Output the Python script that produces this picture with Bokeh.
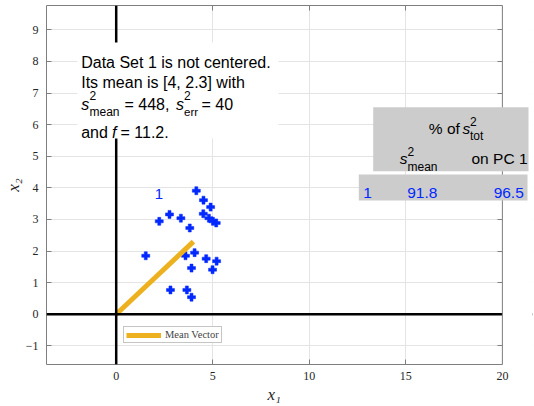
import math
from bokeh.plotting import figure
from bokeh.models import (Range1d, Span, BoxAnnotation, Label, LinearAxis,
                          SingleIntervalTicker, Legend, LegendItem, Title)
from bokeh.embed import file_html
from bokeh.resources import INLINE

# ---------------- data ----------------
x1 = [4.15, 4.52, 4.89, 2.76, 4.51, 2.23, 3.35, 4.80, 5.01, 5.18, 3.81,
      1.53, 3.59, 4.06, 4.66, 5.20, 3.90, 4.99, 2.81, 3.66, 3.90]
x2 = [3.91, 3.61, 3.39, 3.16, 3.18, 2.94, 3.04, 3.04, 2.94, 2.89, 2.73,
      1.85, 1.85, 1.95, 1.76, 1.68, 1.46, 1.41, 0.77, 0.77, 0.54]
mean_vec = [4, 2.3]
set_id = 1
s2_mean = 448
s2_err = 40
f_ratio = 11.2
pct_mean = 91.8
pct_pc1 = 96.5
x_lim = [-3.61, 20]
y_lim = [-1.59, 9.77]
x_tick_step = 5
y_tick_step = 1

BLUE = "#0028FF"
ORANGE = "#EDB120"
GRAY = "#7f7f7f"
TXT = "#262626"

# frame extends a little past x = 20 so that the table can overhang the box
p = figure(width=534, height=406, x_range=Range1d(x_lim[0], 21.56),
           y_range=Range1d(y_lim[0], y_lim[1]), output_backend="svg",
           toolbar_location=None, min_border_left=46, min_border_right=2,
           min_border_top=5, min_border_bottom=42)
p.background_fill_color = "white"
p.border_fill_color = "white"
p.outline_line_color = None

xt = SingleIntervalTicker(interval=x_tick_step)
yt = SingleIntervalTicker(interval=y_tick_step)
p.xaxis.ticker = xt
p.yaxis.ticker = yt
p.xgrid.ticker = xt
p.ygrid.ticker = yt
for g in (p.xgrid, p.ygrid):
    g.grid_line_color = "#E4E4E4"
    g.grid_line_width = 1

for ax in (p.xaxis[0], p.yaxis[0]):
    ax.major_tick_in = 5
    ax.major_tick_out = 0
    ax.minor_tick_line_color = None
    ax.axis_line_color = GRAY
    ax.major_tick_line_color = GRAY
    ax.major_label_text_font = "Liberation Serif"
    ax.major_label_text_font_size = "12px"
    ax.major_label_text_color = TXT
p.xaxis.bounds = (x_lim[0], x_lim[1])
p.xaxis.major_label_standoff = 3
p.yaxis.major_label_standoff = 4
p.yaxis.axis_label = "x₂"
p.yaxis.axis_label_text_font = "Liberation Serif"
p.yaxis.axis_label_text_font_style = "italic"
p.yaxis.axis_label_text_font_size = "17px"
p.yaxis.axis_label_text_color = TXT
p.yaxis.axis_label_standoff = 0

top_ax = LinearAxis(ticker=xt, bounds=(x_lim[0], x_lim[1]),
                    major_label_text_font_size="0px", major_label_text_color=None,
                    major_label_standoff=0, major_tick_in=5, major_tick_out=0,
                    minor_tick_line_color=None, axis_line_color=GRAY,
                    major_tick_line_color=GRAY)
p.add_layout(top_ax, "above")
right_ax = LinearAxis(ticker=yt, fixed_location=x_lim[1],
                      major_label_text_font_size="0px", major_label_text_color=None,
                      major_label_standoff=0, major_tick_in=5, major_tick_out=0,
                      minor_tick_line_color=None, axis_line_color=None,
                      major_tick_line_color=GRAY)
p.add_layout(right_ax, "right")

p.add_layout(Title(text="x₁", align="left", offset=221, standoff=0,
                   text_font="Liberation Serif", text_font_style="italic",
                   text_font_size="17px", text_color=TXT), "below")

# coordinate axes lines
p.add_layout(Span(location=0, dimension="height", line_color="black", line_width=2.5))
p.add_layout(Span(location=0, dimension="width", line_color="black", line_width=2.5))

# data points and mean vector
p.scatter(x1, x2, marker="plus", size=8, fill_color=BLUE, line_color=BLUE, line_width=0.5)
mv = p.line([0, mean_vec[0]], [0, mean_vec[1]], line_width=5, line_color=ORANGE)

p.add_layout(Label(x=2.21, y=3.81, text=str(set_id), text_font="Liberation Sans",
                   text_font_size="15px", text_color=BLUE, text_align="center",
                   text_baseline="middle"))

legend = Legend(items=[LegendItem(label="Mean Vector", renderers=[mv])],
                location=(77, 21), padding=2, spacing=0, margin=0,
                glyph_width=35, glyph_height=10, label_height=10,
                label_standoff=4, border_line_color="#8c8c8c",
                label_text_font="Liberation Serif", label_text_font_size="10.5px",
                background_fill_alpha=1)
p.add_layout(legend)

# blank out the part of the frame beyond x = 20 and close the box there
p.add_layout(BoxAnnotation(left=x_lim[1], fill_color="white", fill_alpha=1, line_color=None))
p.add_layout(Span(location=x_lim[1], dimension="height", line_color=GRAY, line_width=1))

FL, FB = 46, 364  # page position of frame left / bottom


def box(l, t, r, b, color):
    p.add_layout(BoxAnnotation(left=l - FL, right=r - FL, top=FB - t, bottom=FB - b,
                               left_units="screen", right_units="screen",
                               top_units="screen", bottom_units="screen",
                               fill_color=color, fill_alpha=1, line_color=None))


def lab(text, px, py, size, font="Liberation Sans", style="normal", color="black",
        align="left"):
    p.add_layout(Label(x=px - FL, y=FB - py, x_units="screen", y_units="screen",
                       text=text, text_font=font, text_font_size=f"{size}px",
                       text_font_style=style, text_color=color, text_align=align,
                       text_baseline="alphabetic"))


# white text box
box(77, 42, 278, 138, "white")
lab(f"Data Set {set_id} is not centered.", 80.7, 61.7, 16)
lab(f"Its mean is [{mean_vec[0]}, {mean_vec[1]}] with", 80.7, 81.7, 16)
lab("s", 80.7, 104, 16, style="italic")
lab("2", 89, 95, 12)
lab("mean", 89, 111.7, 12)
lab(f"= {s2_mean},", 124, 104, 16)
lab("s", 175.5, 104, 16, style="italic")
lab("2", 183.5, 95, 12)
lab("err", 183.5, 111.7, 11.5)
lab(f"= {s2_err}", 201, 104, 16)
lab("and", 80.7, 131.7, 16)
lab("f", 111.5, 131.7, 16, style="italic")
lab(f"= {f_ratio}.", 120, 131.7, 16)

# table
box(372.7, 106.7, 528, 170.7, "#CCCCCC")
box(358.3, 174, 527, 200, "#CCCCCC")
lab("% of", 428.3, 128.3, 15.5)
lab("s", 462, 128.3, 15.5, style="italic")
lab("2", 469.5, 120.7, 12)
lab("tot", 469.5, 135, 12)
lab("s", 399.3, 158, 15.5, style="italic")
lab("2", 407, 150.7, 12)
lab("mean", 407, 166, 12)
lab("on PC 1", 527, 158, 15.5, align="right")
lab(str(set_id), 362.7, 192.7, 15.5, color=BLUE)
lab(f"{pct_mean}", 406.7, 192.7, 15.5, color=BLUE)
lab(f"{pct_pc1}", 523.3, 192.7, 15.5, color=BLUE, align="right")

open("out.html", "w").write(file_html(p, INLINE))
